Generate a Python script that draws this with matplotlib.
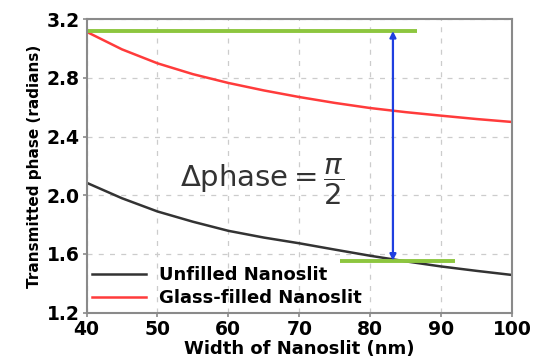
import matplotlib
matplotlib.use("Agg")
from matplotlib import pyplot as plt

width = [40, 45, 50, 55, 60, 65, 70, 75, 80, 85, 90, 95, 100]
glass_filled = [3.115, 2.995, 2.90, 2.826, 2.766, 2.715, 2.67, 2.63, 2.595, 2.567, 2.543, 2.52, 2.50]
unfilled = [2.086, 1.98, 1.89, 1.82, 1.758, 1.712, 1.673, 1.63, 1.588, 1.55, 1.515, 1.485, 1.457]

top_level = 3.12
bottom_level = 1.555
arrow_x = 83.2

fig = plt.figure(figsize=(5.34, 3.64), dpi=100)
ax = fig.add_axes([0.162, 0.141, 0.797, 0.806])

ax.plot(width, unfilled, color="#333333", lw=1.8, label="Unfilled Nanoslit")
ax.plot(width, glass_filled, color="#ff3b3b", lw=1.8, label="Glass-filled Nanoslit")

ax.plot([40, 86.6], [top_level, top_level], color="#8dc63f", lw=2.8, solid_capstyle="butt")
ax.plot([75.7, 91.9], [bottom_level, bottom_level], color="#8dc63f", lw=2.8, solid_capstyle="butt")
ax.annotate("", xy=(arrow_x, top_level), xytext=(arrow_x, bottom_level),
            arrowprops=dict(arrowstyle="<|-|>", color="#1f3fe0", lw=1.6,
                            shrinkA=0, shrinkB=0, mutation_scale=9))

ax.text(53.2, 2.09, r"$\Delta\mathrm{phase} = \dfrac{\pi}{2}$", fontsize=21,
        color="#333333", va="center", ha="left")

ax.set_xlim(40, 100)
ax.set_ylim(1.2, 3.2)
ax.set_xticks(range(40, 101, 10))
ax.set_yticks([1.2, 1.6, 2.0, 2.4, 2.8, 3.2])
ax.set_yticklabels(["1.2", "1.6", "2.0", "2.4", "2.8", "3.2"])
ax.grid(True, ls=(0, (4, 5)), color="#cccccc", lw=0.9)
for s in ax.spines.values():
    s.set_color("#8a8a8a")
    s.set_linewidth(1.5)
ax.tick_params(length=3, width=1.2, color="#8a8a8a", labelsize=13.5, pad=2)
for lab in ax.get_xticklabels() + ax.get_yticklabels():
    lab.set_fontweight("bold")

ax.set_xlabel("Width of Nanoslit (nm)", fontsize=13, fontweight="bold", labelpad=1)
ax.set_ylabel("Transmitted phase (radians)", fontsize=11, fontweight="bold", labelpad=3)

ax.legend(loc="lower left", frameon=False, prop={"weight": "bold", "size": 13},
          handlelength=3.0, handletextpad=0.7, labelspacing=0.3,
          borderaxespad=0.1, borderpad=0.2)

fig.savefig("out.png", dpi=100)
